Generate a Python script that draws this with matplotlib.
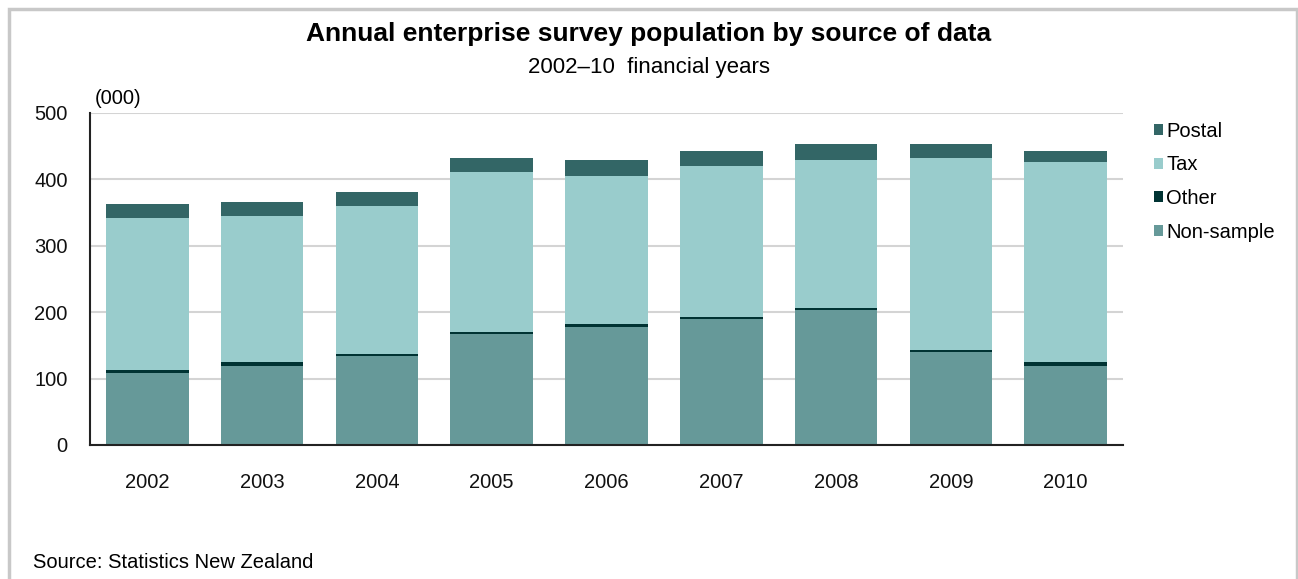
import matplotlib
matplotlib.use("Agg")
import matplotlib.pyplot as plt
from matplotlib.patches import Rectangle, Patch
import numpy as np

years = ["2002", "2003", "2004", "2005", "2006", "2007", "2008", "2009", "2010"]
non_sample = [109, 119, 134, 167, 178, 190, 203, 140, 118.5]
other = [3.5, 5.5, 3, 3.5, 3.5, 3.5, 3, 3, 6]
tax = [229, 220, 222.5, 240.5, 223, 226, 223, 289, 301]
postal = [21.6, 21, 21, 21, 24, 24, 24, 21, 18]

series = [
    ("Non-sample", non_sample, "#669999"),
    ("Other", other, "#003333"),
    ("Tax", tax, "#99cccc"),
    ("Postal", postal, "#336666"),
]

plt.rcParams["font.family"] = ["Liberation Sans", "DejaVu Sans"]

fig = plt.figure(figsize=(12.98, 5.79), dpi=100)
ax = fig.add_axes([90 / 1298, 1 - 445 / 579, (1123 - 90) / 1298, (445 - 113) / 579])

x = np.arange(len(years))
bottom = np.zeros(len(years))
for name, vals, col in series:
    ax.bar(x, vals, width=0.72, bottom=bottom, color=col, linewidth=0,
           zorder=3, label=name)
    bottom += np.array(vals)

ax.set_xlim(-0.5, len(years) - 0.5)
ax.set_ylim(0, 500)
ax.set_yticks([0, 100, 200, 300, 400, 500])
ax.set_xticks(x)
ax.set_xticklabels(years)
ax.tick_params(axis="y", length=0, pad=16, labelsize=14.5, colors="#111111")
ax.tick_params(axis="x", length=0, pad=20, labelsize=14.5, colors="#111111")
ax.yaxis.grid(True, color="#d4d4d4", linewidth=1.5, zorder=0)
for s in ["top", "right"]:
    ax.spines[s].set_visible(False)
for s in ["left", "bottom"]:
    ax.spines[s].set_color("#222222")
    ax.spines[s].set_linewidth(1.5)
    ax.spines[s].set_zorder(4)

handles = [Patch(facecolor=c, label=n) for n, v, c in reversed(series)]
fig.legend(handles=handles, loc="upper left", bbox_to_anchor=(1154 / 1298, 1 - 122 / 579),
           frameon=False, fontsize=14.5, handlelength=0.45, handleheight=0.45,
           handletextpad=0.15, labelspacing=0.72, borderaxespad=0, borderpad=0)

fig.text(0.5, 1 - 34 / 579, "Annual enterprise survey population by source of data",
         ha="center", va="center", fontsize=19, fontweight="bold")
fig.text(0.5, 1 - 67 / 579, "2002\u201310  financial years", ha="center", va="center",
         fontsize=16)
fig.text(95 / 1298, 1 - 99 / 579, "(000)", ha="left", va="center", fontsize=14.5)
fig.text(33 / 1298, 1 - 562 / 579, "Source: Statistics New Zealand", ha="left",
         va="center", fontsize=14.5)

# grey frame around the chart
fig.patches.append(Rectangle((8.5 / 1298, -0.1), (1297 - 8.5) / 1298, 1.1 - 9.5 / 579,
                             transform=fig.transFigure, fill=False,
                             edgecolor="#c8c8c8", linewidth=2.5))

fig.savefig("out.png", dpi=100)
